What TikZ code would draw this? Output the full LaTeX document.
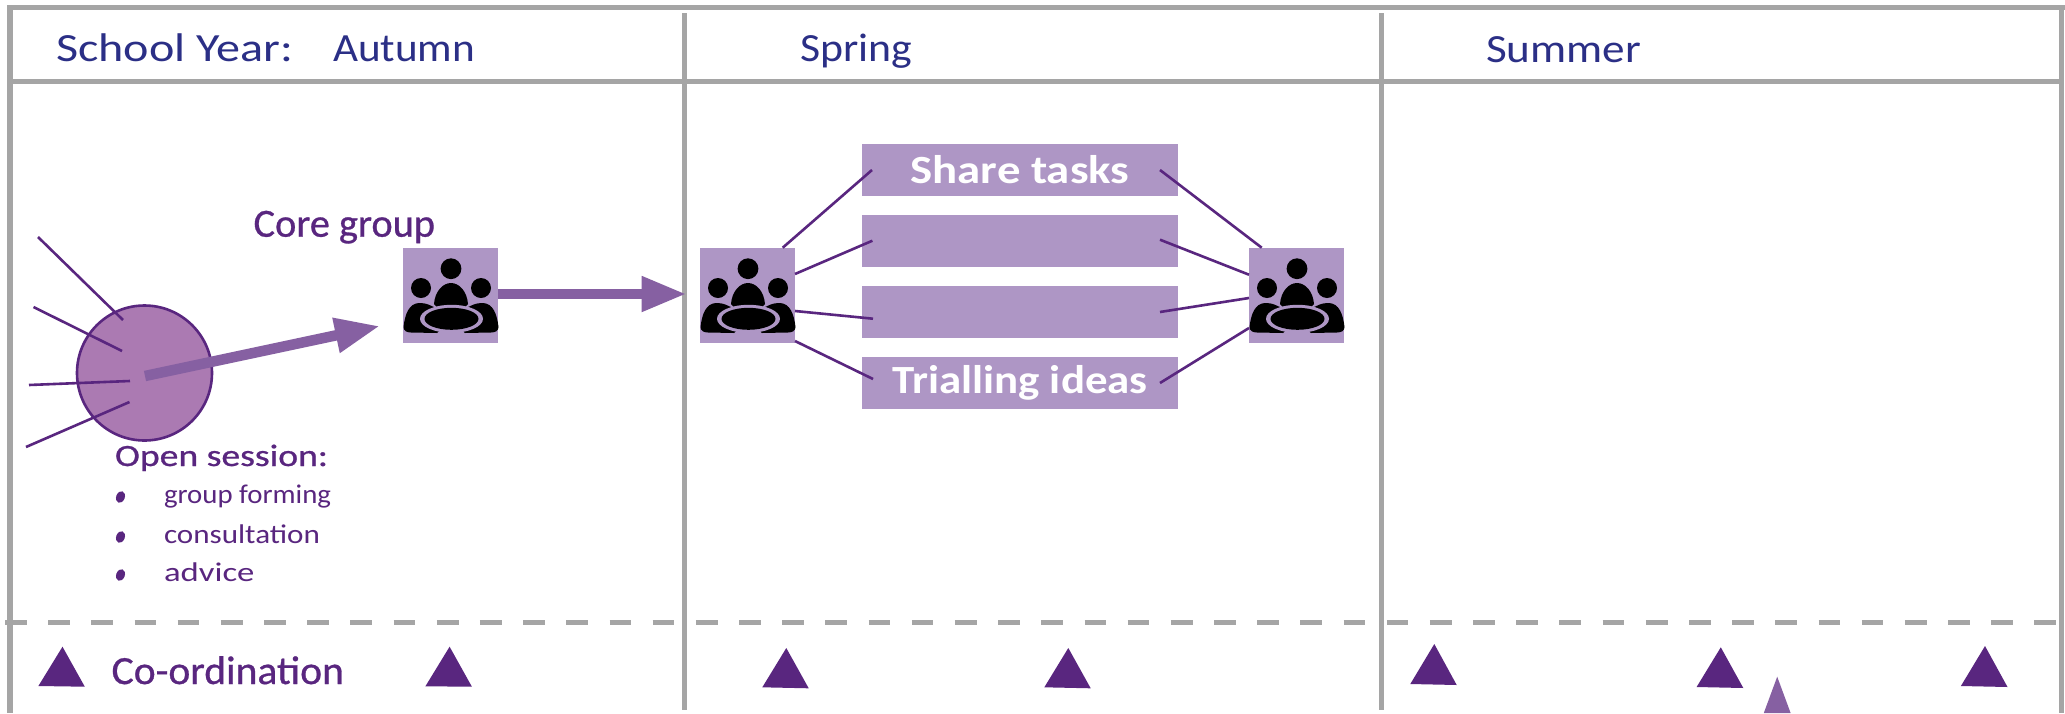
\documentclass[tikz,border=0pt]{standalone}
\usepackage{fontspec}
\usepackage{graphicx}
\setmainfont{Carlito}
\newfontfamily\handbold[FakeBold=0.7]{Carlito}
\usetikzlibrary{arrows.meta,calc}
\definecolor{gridgrey}{HTML}{A5A5A5}
\definecolor{deep}{HTML}{59267F}
\definecolor{headblue}{HTML}{2B2F86}
\definecolor{boxlilac}{HTML}{AE96C5}
\definecolor{arrowpurple}{HTML}{8660A2}
\definecolor{circlefill}{HTML}{AB7AB2}
\newcommand{\fs}[1]{\fontsize{#1pt}{#1pt}\selectfont}
\newcommand{\fitw}[2]{\resizebox{#1pt}{\height}{#2}}
\tikzset{
  gridline/.style={draw=gridgrey,line width=5.3pt},
  hand/.style={anchor=base west,inner sep=0pt,outer sep=0pt},
  headtext/.style={hand,text=headblue,font=\fs{40}},
  bodytext/.style={hand,text=deep,font=\fs{40}\handbold},
  listtext/.style={hand,text=deep,font=\fs{27}},
  bar/.style={fill=boxlilac,inner sep=0pt,outer sep=0pt,minimum width=316pt,minimum height=52pt,text=white,font=\fs{40}\bfseries},
  iconbox/.style={fill=boxlilac,inner sep=0pt,outer sep=0pt,minimum width=95pt,minimum height=95pt},
  link/.style={draw=deep,line width=2.6pt},
  bigarrow/.style={draw=arrowpurple,line width=10.5pt,-{Triangle[length=45pt,width=33pt,fill=arrowpurple]}},
  mark tri/.style={fill=deep},
  dotbullet/.style={fill=deep},
  people/.pic={
    \fill[black] (48,20.7) circle (10.4);
    \fill[black] (18,40) circle (10);
    \fill[black] (78,40) circle (10);
    \fill[black] (31,56) .. controls (32,43) and (40,35) .. (48,35) .. controls (56,35) and (64,43) .. (65,56) -- (48,75) -- cycle;
    \fill[black] (0.5,79) .. controls (2,66) and (6,55.5) .. (16,55) .. controls (22,54.5) and (30,58) .. (36,62) -- (48,72) -- (34,85) -- (8,84.5) .. controls (4,84.5) and (0.5,83) .. (0.5,79) -- cycle;
    \fill[black] (95.5,79) .. controls (94,66) and (90,55.5) .. (80,55) .. controls (74,54.5) and (66,58) .. (60,62) -- (48,72) -- (62,85) -- (88,84.5) .. controls (92,84.5) and (95.5,83) .. (95.5,79) -- cycle;
    \fill[boxlilac] (48.5,70.8) ellipse (31.5 and 14);
    \fill[black] (48.5,70.8) ellipse (27 and 11);
  }
}
\begin{document}
\begin{tikzpicture}[x=1pt,y=-1pt]
\useasboundingbox (0,0) rectangle (2065,713);
\fill[white] (0,0) rectangle (2065,713);
% frame
\draw[gridline] (7.7,7.5) -- (2065,7.5);
\draw[gridline] (10,5) -- (10,713);
\draw[gridline] (2061.5,5) -- (2061.5,713);
\draw[gridline] (10,81.3) -- (2061,81.3);
\draw[gridline] (684.3,13) -- (684.3,710);
\draw[gridline] (1381.2,13) -- (1381.2,710);
\draw[draw=gridgrey,line width=5.5pt,dash pattern=on 21.7pt off 21.48pt] (5,622.7) -- (2058,622.7);
% headers
\node[headtext] (hauto) at (56,61) {\fitw{237}{School Year:}\hspace{40pt}\fitw{142}{Autumn}};
\node[headtext] (hspring) at (800,61) {\fitw{112}{Spring}};
\node[headtext] (hsummer) at (1486,62) {\fitw{155}{Summer}};
% open session
\node[circle,draw=deep,fill=circlefill,line width=2.6pt,minimum size=135pt,inner sep=0pt,outer sep=0pt] (open) at (144.5,373) {};
\coordinate (f1) at (38,237);
\coordinate (f2) at (33.5,307);
\coordinate (f3) at (29,385);
\coordinate (f4) at (26,447);
\draw[link] (f1) -- ([shift={(-21.5,-53)}]open.center);
\draw[link] (f2) -- ([shift={(-22.5,-22)}]open.center);
\draw[link] (f3) -- ([shift={(-14.5,8)}]open.center);
\draw[link] (f4) -- ([shift={(-15,29)}]open.center);
% icons
\node[iconbox] (core) at (450.5,295.5) {};
\pic at (core.north west) {people};
\node[iconbox] (gleft) at (747.5,295.5) {};
\pic at (gleft.north west) {people};
\node[iconbox] (gright) at (1296.5,295.5) {};
\pic at (gright.north west) {people};
% arrows
\coordinate (tip1) at (380,326);
\draw[bigarrow] ([shift={(0.5,3)}]open.center) -- (tip1);
\draw[bigarrow] ([shift={(0,-1.5)}]core.east) -- ([shift={(-13.4,-1.5)}]gleft.west);
% labels
\node[bodytext] (lcore) at (253.6,236.7) {\fitw{181.4}{Core group}};
\node[hand,text=deep,font=\fs{31}\handbold] (lopen) at (115,466) {\fitw{213}{Open session:}};
\node[listtext] (l1) at (164,503) {\fitw{167}{group forming}};
\node[listtext] (l2) at (164,543) {\fitw{156}{consultation}};
\node[listtext] (l3) at (164,581) {\fitw{90.5}{advice}};
\fill[dotbullet,rotate around={-20:(120.5,497)}] (120.5,497) ellipse (4.3 and 6);
\fill[dotbullet,rotate around={-20:(120.5,537)}] (120.5,537) ellipse (4.3 and 6);
\fill[dotbullet,rotate around={-20:(120.5,575)}] (120.5,575) ellipse (4.3 and 6);
\node[bodytext] (lcoord) at (111.6,684) {\fitw{232.4}{Co-ordination}};
% bars
\node[bar] (b1) at (1020,170) {\fitw{218.7}{\raisebox{2pt}{Share tasks}}};
\node[bar] (b2) at (1020,241) {};
\node[bar] (b3) at (1020,312) {};
\node[bar] (b4) at (1020,383) {\fitw{255.5}{Trialling ideas}};
% connectors
\draw[link] ([shift={(35.2,-47.8)}]gleft.center) -- ([shift={(10,0)}]b1.west);
\draw[link] ([shift={(47.5,-21.5)}]gleft.center) -- ([shift={(10.4,-0.3)}]b2.west);
\draw[link] ([shift={(47.5,15.5)}]gleft.center) -- ([shift={(11,6.7)}]b3.west);
\draw[link] ([shift={(47.5,45.5)}]gleft.center) -- ([shift={(11,-4)}]b4.west);
\draw[link] ([shift={(-18,0)}]b1.east) -- ([shift={(-34.8,-47.8)}]gright.center);
\draw[link] ([shift={(-18,-1.3)}]b2.east) -- ([shift={(-47.5,-20.8)}]gright.center);
\draw[link] ([shift={(-18,0)}]b3.east) -- ([shift={(-47.5,2.5)}]gright.center);
\draw[link] ([shift={(-18,0)}]b4.east) -- ([shift={(-47.5,32.5)}]gright.center);
% triangles
\fill[mark tri] (62.5,646.7) -- (38.4,686) -- (84.8,686.7) -- cycle;
\fill[mark tri] (449.6,646.7) -- (425.4,686.3) -- (471.9,686.7) -- cycle;
\fill[mark tri] (786.3,648) -- (762.3,687.3) -- (808.7,688.3) -- cycle;
\fill[mark tri] (1068.3,648) -- (1044.3,687.3) -- (1090.7,688.3) -- cycle;
\fill[mark tri] (1434.3,644) -- (1410.3,684) -- (1456.7,685) -- cycle;
\fill[mark tri] (1720.8,647.3) -- (1696.6,687) -- (1743.3,688) -- cycle;
\fill[mark tri] (1985,646) -- (1960.9,686) -- (2007.5,687) -- cycle;
\fill[arrowpurple] (1777.2,676.7) -- (1763.8,713) -- (1790.6,713) -- cycle;
\end{tikzpicture}
\end{document}
